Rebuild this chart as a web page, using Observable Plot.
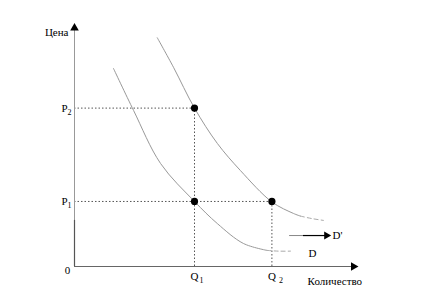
<!DOCTYPE html>
<html><head><meta charset="utf-8">
<script src="https://cdn.jsdelivr.net/npm/d3@7"></script>
<script src="https://cdn.jsdelivr.net/npm/@observablehq/plot@0.6"></script>
<style>body{margin:0;background:#fff}svg{display:block}svg text{font-family:"Liberation Serif",serif !important}</style>
</head><body><div id="chart"></div>
<script>
// Quantities and prices
const qValues = [4.0, 6.58];          // Q1, Q2
const pValues = [2.71, 6.6];          // P1, P2
const qSubs = ["1", "2"];
const pSubs = ["1", "2"];
// Equilibrium points (q, p)
const eqQ = [4.0, 4.0, 6.58];
const eqP = [6.6, 2.71, 2.71];
// Demand curve D' (shifted)
const dPrimeQ = [2.76, 3.3, 4.0, 4.76, 5.53, 6.58, 7.3, 7.53];
const dPrimeP = [9.53, 8.3, 6.6, 5.13, 4.0, 2.69, 2.21, 2.1];
const dPrimeTailQ = [7.53, 7.9, 8.3];
const dPrimeTailP = [2.1, 2.0, 1.92];
// Demand curve D (original)
const dQ = [1.3, 1.97, 2.87, 4.0, 4.76, 5.63, 6.42];
const dP = [8.25, 6.5, 4.29, 2.71, 1.79, 0.96, 0.67];
const dTailQ = [6.42, 6.8, 7.2];
const dTailP = [0.67, 0.64, 0.64];
// Shift arrow
const shiftQ = [7.17, 7.63, 8.5];
const shiftP = 1.29;
// Axis extents
const xMax = 9.3, yMax = 9.9;
const axisLabels = {y: "Цена", x: "Количество", origin: "0"};
const curveLabels = {d: "D", dPrime: "D'"};

const pts = (qs, ps) => qs.map((q, i) => ({q, p: ps[i]}));
const font = "Liberation Serif";
const T = {fill: "#000", fontFamily: font, fontSize: 11};

const chart = Plot.plot({
  width: 444, height: 304,
  marginLeft: 74, marginRight: 70, marginTop: 26, marginBottom: 38,
  x: {domain: [0, 10], axis: null},
  y: {domain: [0, 10], axis: null},
  style: {fontFamily: font, fontSize: "11px", background: "#fff"},
  marks: [
    // guide lines
    Plot.ruleY(pValues.map((p, i) => ({p, q: qValues[1 - i]})), {y: "p", x1: 0, x2: "q", stroke: "#555", strokeDasharray: "1.5,2", strokeWidth: 1}),
    Plot.ruleX(qValues.map((q, i) => ({q, p: pValues[1 - i]})), {x: "q", y1: 0, y2: "p", stroke: "#555", strokeDasharray: "1.5,2", strokeWidth: 1}),
    // axes
    Plot.ruleX([0], {y1: 0, y2: yMax, stroke: "#999", strokeWidth: 1}),
    Plot.ruleX([0], {y1: 0, y2: 1.92, stroke: "#555", strokeWidth: 1.2}),
    Plot.ruleY([0], {x1: 0, x2: xMax, stroke: "#666", strokeWidth: 1.2}),
    Plot.dot([{q: 0, p: yMax}], {x: "q", y: "p", symbol: "triangle", r: 3.2, fill: "#000", stroke: "none", dy: -1}),
    Plot.dot([{q: xMax, p: 0}], {x: "q", y: "p", symbol: "triangle", r: 3.2, fill: "#000", stroke: "none", rotate: 90}),
    // curves
    Plot.line(pts(dPrimeQ, dPrimeP), {x: "q", y: "p", curve: "catmull-rom", stroke: "#999", strokeWidth: 1}),
    Plot.line(pts(dPrimeTailQ, dPrimeTailP), {x: "q", y: "p", curve: "catmull-rom", stroke: "#aaa", strokeWidth: 1, strokeDasharray: "4,3"}),
    Plot.line(pts(dQ, dP), {x: "q", y: "p", curve: "catmull-rom", stroke: "#999", strokeWidth: 1}),
    Plot.line(pts(dTailQ, dTailP), {x: "q", y: "p", curve: "catmull-rom", stroke: "#aaa", strokeWidth: 1, strokeDasharray: "4,3"}),
    // shift arrow
    Plot.ruleY([shiftP], {x1: shiftQ[0], x2: shiftQ[1], stroke: "#888", strokeWidth: 1}),
    Plot.ruleY([shiftP], {x1: shiftQ[1], x2: shiftQ[2] - 0.1, stroke: "#000", strokeWidth: 1.2}),
    Plot.dot([{q: shiftQ[2] - 0.1, p: shiftP}], {x: "q", y: "p", symbol: "triangle", r: 3, fill: "#000", stroke: "none", rotate: 90}),
    // equilibrium points
    Plot.dot(pts(eqQ, eqP), {x: "q", y: "p", r: 3.6, fill: "#000", stroke: "none"}),
    // labels
    Plot.text([axisLabels.y], {...T, x: 0, y: 9.75, text: d => d, textAnchor: "end", dx: -6}),
    Plot.text([axisLabels.origin], {...T, x: 0, y: 0, text: d => d, textAnchor: "middle", dx: -7, dy: 4}),
    Plot.text([axisLabels.x], {...T, x: 7.77, y: 0, text: d => d, textAnchor: "start", dy: 15}),
    Plot.text(pValues, {...T, x: 0, y: d => d, text: () => "P", textAnchor: "end", dx: -7}),
    Plot.text(pValues, {...T, x: 0, y: d => d, text: (d, i) => pSubs[i], textAnchor: "start", dx: -7, dy: 4, fontSize: 8}),
    Plot.text(qValues, {...T, x: d => d, y: 0, text: () => "Q", textAnchor: "middle", dx: 0, dy: 10}),
    Plot.text([qValues[0]], {...T, x: d => d, y: 0, text: () => qSubs[0], textAnchor: "start", dx: 5, dy: 14, fontSize: 8}),
    Plot.text([qValues[1]], {...T, x: d => d, y: 0, text: () => qSubs[1], textAnchor: "start", dx: 7, dy: 14, fontSize: 8}),
    Plot.text([curveLabels.dPrime], {...T, x: 8.6, y: shiftP, text: d => d, textAnchor: "start"}),
    Plot.text([curveLabels.d], {...T, x: 7.8, y: 0.54, text: d => d, textAnchor: "start"})
  ]
});
document.getElementById("chart").appendChild(chart);
</script>
</body></html>
